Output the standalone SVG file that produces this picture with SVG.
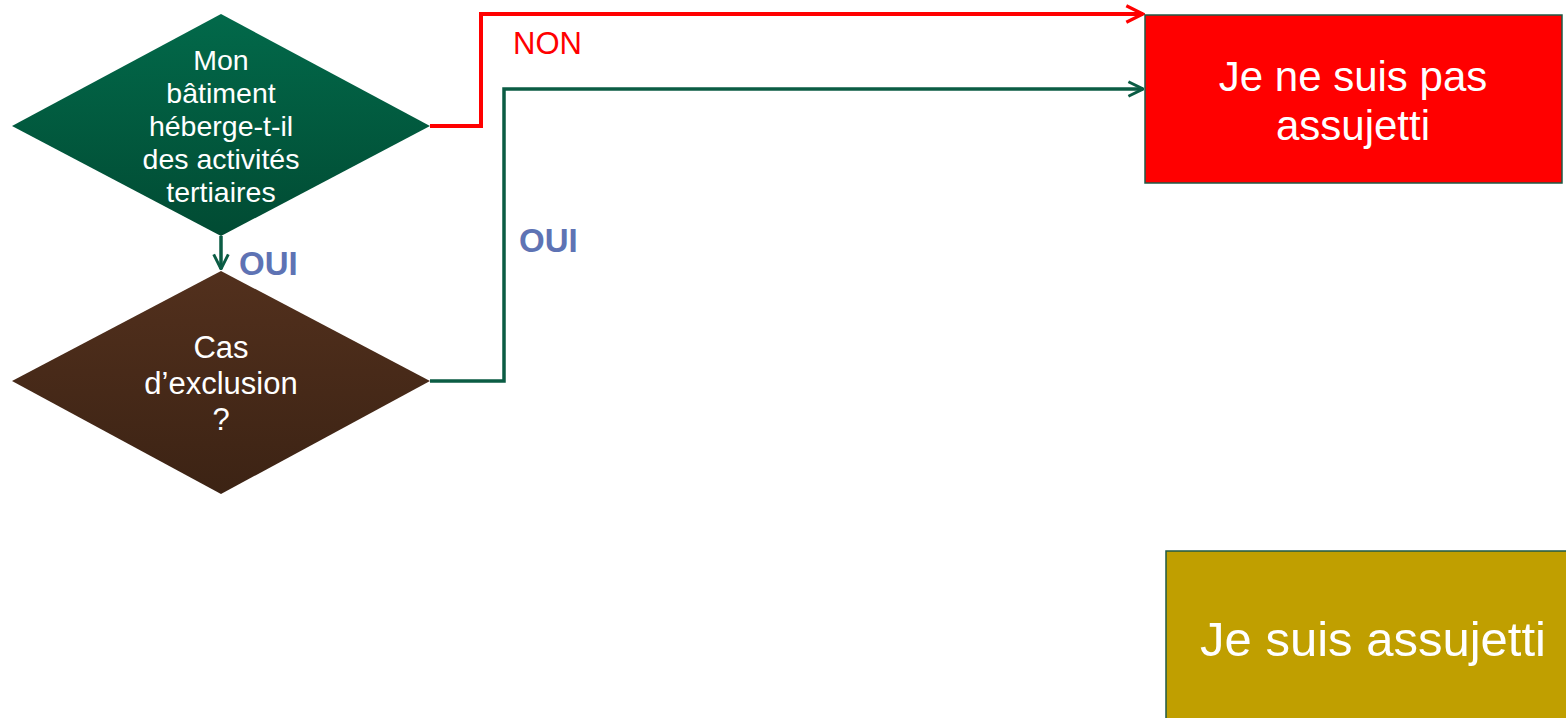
<svg xmlns="http://www.w3.org/2000/svg" width="1566" height="718" viewBox="0 0 1566 718">
<style>
.t{font-family:"Liberation Sans",Arial,sans-serif;fill:#fff;text-anchor:middle}
.lbl{font-family:"Liberation Sans",Arial,sans-serif;font-size:31px}
.oui{fill:#5E73B4;font-weight:bold;font-size:33px}
</style>
<defs>
<linearGradient id="gGreen" x1="0" y1="0" x2="0" y2="1">
<stop offset="0" stop-color="#02694A"/><stop offset="1" stop-color="#014B33"/>
</linearGradient>
<linearGradient id="gBrown" x1="0" y1="0" x2="0" y2="1">
<stop offset="0" stop-color="#52301D"/><stop offset="1" stop-color="#3C2314"/>
</linearGradient>
<marker id="aRed" viewBox="0 0 12 12" refX="11" refY="6" markerWidth="5" markerHeight="5" markerUnits="strokeWidth" orient="auto">
<path d="M1,1 L11,6 L1,11" fill="none" stroke="#FF0000" stroke-width="2"/>
</marker>
<marker id="aGreen" viewBox="0 0 12 12" refX="11" refY="6" markerWidth="5" markerHeight="5" markerUnits="strokeWidth" orient="auto">
<path d="M1,1 L11,6 L1,11" fill="none" stroke="#0B5C44" stroke-width="2"/>
</marker>
</defs>
<g id="connectors" fill="none">
<path d="M430,126 H481 V14 H1143" stroke="#FF0000" stroke-width="4" marker-end="url(#aRed)"/>
<path d="M430,381 H504 V89 H1143" stroke="#0B5C44" stroke-width="3.5" marker-end="url(#aGreen)"/>
<path d="M221,236 V269" stroke="#0B5C44" stroke-width="3.5" marker-end="url(#aGreen)"/>
<text class="lbl" x="513" y="54" fill="#FF0000">NON</text>
<text class="lbl oui" x="519" y="252">OUI</text>
<text class="lbl oui" x="239" y="275">OUI</text>
</g>
<g id="q1">
<polygon points="221,14 430,126 221,236 12,126" fill="url(#gGreen)"/>
<text class="t" font-size="28.5"><tspan x="221" y="70">Mon</tspan><tspan x="221" y="103">bâtiment</tspan><tspan x="221" y="136">héberge-t-il</tspan><tspan x="221" y="169">des activités</tspan><tspan x="221" y="202">tertiaires</tspan></text>
</g>
<g id="q2">
<polygon points="221,271 430,381 221,494 12,381" fill="url(#gBrown)"/>
<text class="t" font-size="31"><tspan x="221" y="358">Cas</tspan><tspan x="221" y="394">d’exclusion</tspan><tspan x="221" y="430">?</tspan></text>
</g>
<g id="nonAssujetti">
<rect x="1145" y="15" width="417" height="168" fill="#FF0000" stroke="#1F5A45" stroke-width="1.5"/>
<text class="t" font-size="42"><tspan x="1353" y="91">Je ne suis pas</tspan><tspan x="1353" y="140">assujetti</tspan></text>
</g>
<g id="assujetti">
<rect x="1166" y="551" width="410" height="180" fill="#C09F00" stroke="#1F5A45" stroke-width="1.5"/>
<text class="t" font-size="49" x="1373" y="656">Je suis assujetti</text>
</g>
</svg>
